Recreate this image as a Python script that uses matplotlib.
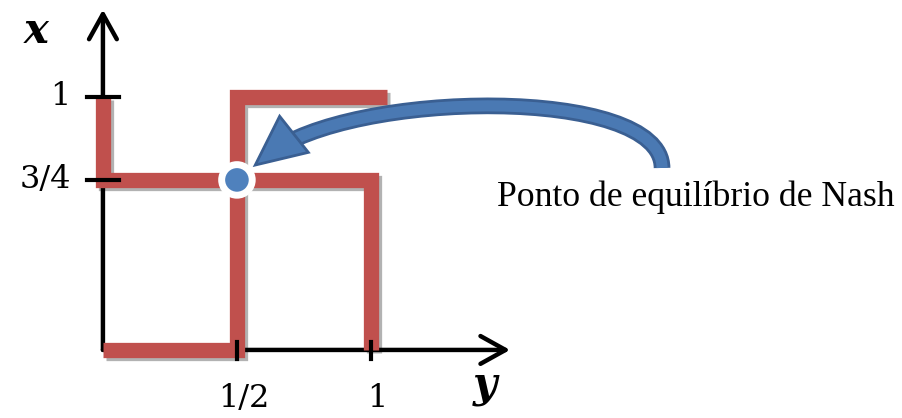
import numpy as np
import matplotlib
matplotlib.use("Agg")
import matplotlib.pyplot as plt
import matplotlib.patheffects as pe
from matplotlib.patches import FancyArrowPatch
from matplotlib.path import Path

# best responses: horizontal axis = y, vertical axis = x
br1_y = [0, 0, 1, 1]
br1_x = [1, 0.75, 0.75, 0]
br2_y = [0, 0.5, 0.5, 1.06]
br2_x = [0, 0, 1, 1]
nash = (0.5, 0.75)

x_ticks = [0.75, 1]
x_tick_labels = ["3/4", "1"]
y_ticks = [0.5, 1]
y_tick_labels = ["1/2", "1"]
note = "Ponto de equilíbrio de Nash"

red = "#C0504D"
blue = "#4A79B3"
dark_blue = "#3A5F92"
serif = "Liberation Serif"

fig = plt.figure(figsize=(9.03, 4.18), dpi=100)
ax = fig.add_axes([0, 0, 1, 1])
ax.axis("off")

# sketch scale on the vertical axis (3/4 is drawn a bit low in the picture)
kd = [-5, 0, 0.75, 1, 5]
kv = [-5 * 253, 0, 170, 253, 253 + 4 * 253]
ax.set_yscale("function", functions=(lambda v: np.interp(v, kd, kv),
                                     lambda u: np.interp(u, kv, kd)))
ax.set_xlim(-0.384, 2.985)
ax.set_ylim(-0.269, 1.383)

# axes with arrows
arr = dict(arrowstyle="->,head_length=0.45,head_width=0.25", lw=3.2, color="black",
           mutation_scale=40, shrinkA=0, shrinkB=0)
ax.annotate("", xy=(0, 1.345), xytext=(0, 0), arrowprops=arr, zorder=1)
ax.annotate("", xy=(1.519, 0), xytext=(0, 0), arrowprops=arr, zorder=1)

shadow = [pe.SimpleLineShadow(offset=(2, -2), alpha=0.3), pe.Normal()]
ax.plot(br1_y, br1_x, color=red, lw=11, solid_capstyle="butt",
        solid_joinstyle="miter", path_effects=shadow, zorder=2)
ax.plot(br2_y, br2_x, color=red, lw=11, solid_capstyle="butt",
        solid_joinstyle="miter", path_effects=shadow, zorder=2)

# ticks
for v in x_ticks:
    ax.plot([-0.06, 0.06], [v, v], color="black", lw=3, zorder=3)
for v in y_ticks:
    ax.plot([v, v], [-0.036, 0.036], color="black", lw=3, zorder=3)

for v, lbl in zip(x_ticks, x_tick_labels):
    ax.text(-0.12, v, lbl, ha="right", va="center", fontsize=23, family="DejaVu Serif")
for v, lbl in zip(y_ticks, y_tick_labels):
    ax.text(v + 0.025, -0.19, lbl, ha="center", va="center", fontsize=23,
            family="DejaVu Serif")

ax.text(-0.25, 1.26, "x", ha="center", va="center", fontsize=30, family="DejaVu Serif",
        style="italic", weight="bold")
ax.text(1.425, -0.14, "y", ha="center", va="center", fontsize=30, family="DejaVu Serif",
        style="italic", weight="bold")

# Nash point
ax.plot(*nash, marker="o", ms=22, mfc="#4F81BD", mec="white", mew=5, zorder=5,
        path_effects=[pe.SimplePatchShadow(offset=(1.5, -1.5), alpha=0.3), pe.Normal()])

# curved arrow pointing at the equilibrium
curve = Path([(2.086, 0.786), (2.086, 1.047), (0.922, 1.028), (0.578, 0.801)],
             [Path.MOVETO, Path.CURVE4, Path.CURVE4, Path.CURVE4])
arrow = FancyArrowPatch(path=curve, arrowstyle="-|>,head_length=0.75,head_width=0.35",
                        mutation_scale=25, lw=8, color=blue, capstyle="butt",
                        joinstyle="miter", zorder=4,
                        path_effects=[pe.Stroke(linewidth=12, foreground=dark_blue),
                                      pe.Normal()])
ax.add_patch(arrow)
ax.text(1.47, 0.635, note, ha="left", va="baseline", fontsize=25.7, family=serif)

fig.savefig("out.png", dpi=100, facecolor="white")
